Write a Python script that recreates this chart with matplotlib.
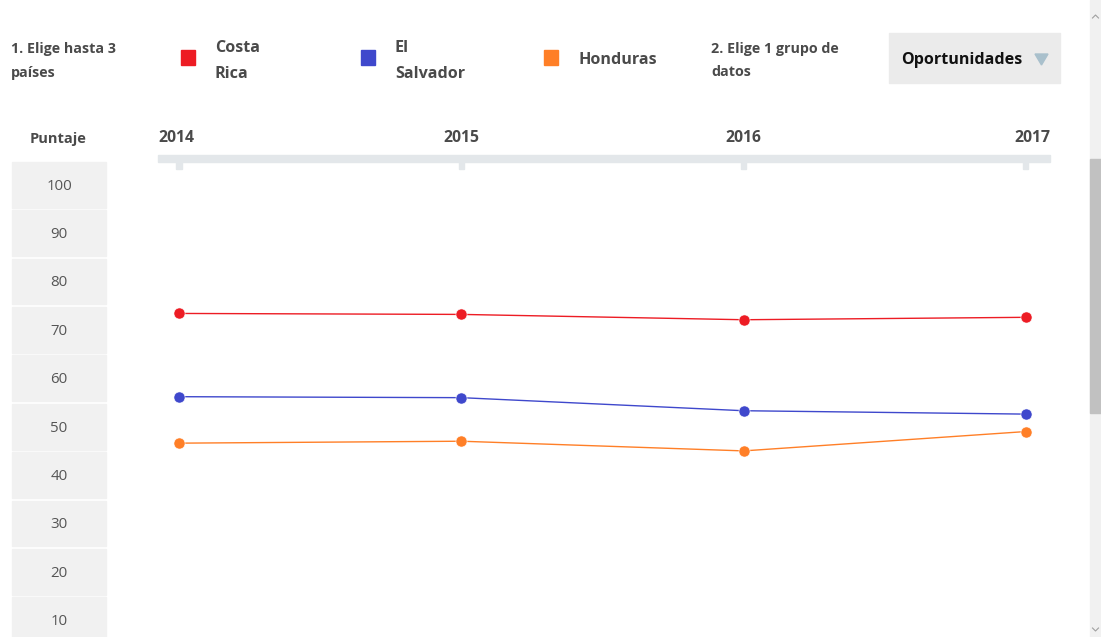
import matplotlib
matplotlib.use("Agg")
import matplotlib.pyplot as plt
from matplotlib.patches import Rectangle, Polygon
from matplotlib.transforms import blended_transform_factory

years = [2014, 2015, 2016, 2017]
countries = ["Costa Rica", "El Salvador", "Honduras"]
legend_lines = [["Costa", "Rica"], ["El", "Salvador"], ["Honduras"]]
costa_rica = [73.4, 73.2, 72.1, 72.6]
el_salvador = [56.2, 56.0, 53.3, 52.6]
honduras = [46.6, 47.0, 45.0, 49.0]
scores = [100, 90, 80, 70, 60, 50, 40, 30, 20, 10]
colors = ["#ED1C24", "#3F48CC", "#FF7F27"]

W, H = 1101, 637
plt.rcParams['font.family'] = ['Open Sans', 'DejaVu Sans']
fig = plt.figure(figsize=(W / 100, H / 100), dpi=100)
fig.patch.set_facecolor("white")


def fx(x):
    return x / W


def fy(y):
    return 1 - y / H


ax = fig.add_axes([0, 0, 1, 1])
ax.set_xlim(2013.366, 2017.266)
ax.set_ylim(6.55, 138.16)
ax.axis("off")

dark = "#4a4a4a"

# header
fig.text(fx(11), fy(48.5), "1. Elige hasta 3", fontsize=10.3, fontweight="bold", color=dark, va="center")
fig.text(fx(11), fy(72.5), "países", fontsize=10.3, fontweight="bold", color=dark, va="center")

sq_x = [181, 361, 544]
txt_x = [215, 395, 579]
for i, name in enumerate(countries):
    fig.patches.append(Rectangle((fx(sq_x[i]), fy(65)), 14 / W, 15 / H,
                                 transform=fig.transFigure, color=colors[i]))
    lines = legend_lines[i]
    if len(lines) == 2:
        fig.text(fx(txt_x[i]), fy(47.5), lines[0], fontsize=11.6, fontweight="bold", color=dark, va="center")
        fig.text(fx(txt_x[i]), fy(73.5), lines[1], fontsize=11.6, fontweight="bold", color=dark, va="center")
    else:
        fig.text(fx(txt_x[i]), fy(60.5), lines[0], fontsize=11.6, fontweight="bold", color=dark, va="center")

fig.text(fx(711), fy(48.5), "2. Elige 1 grupo de", fontsize=10.3, fontweight="bold", color=dark, va="center")
fig.text(fx(711), fy(72.5), "datos", fontsize=10.3, fontweight="bold", color=dark, va="center")

fig.patches.append(Rectangle((fx(889), fy(83)), 171 / W, 50 / H,
                             transform=fig.transFigure, color="#ebebeb"))
fig.text(fx(901), fy(60.5), "Oportunidades", fontsize=11.6, fontweight="bold", color="#111111", va="center")
fig.patches.append(Polygon([(fx(1035), fy(54)), (fx(1048), fy(54)), (fx(1041.5), fy(65))],
                           closed=True, transform=fig.transFigure, color="#a9c0cc"))

# y labels as boxes
fig.text(fx(58), fy(138.5), "Puntaje", fontsize=10.5, fontweight="bold", color=dark, ha="center", va="center")
tr = blended_transform_factory(ax.transAxes, ax.transData)
for v in scores:
    ax.add_patch(Rectangle((fx(12), v - 4.75), 94 / W, 9.5, transform=tr, color="#f1f1f1"))
    ax.text(fx(59), v - 0.3, str(v), transform=tr, fontsize=10.8, color="#555555", ha="center", va="center")

# x axis bar with ticks and year labels
ax.add_patch(Rectangle((fx(158), fy(162)), 892 / W, 7 / H, transform=ax.transAxes, color="#e3e7ea"))
trx = blended_transform_factory(ax.transData, ax.transAxes)
for yr in years:
    ax.add_patch(Rectangle((yr - 0.009, fy(169)), 0.018, 8 / H, transform=trx, color="#e3e7ea"))
ha_list = ["left", "center", "center", "right"]
for i, yr in enumerate(years):
    if i == 0:
        x, t = fx(158), ax.transAxes
    elif i == len(years) - 1:
        x, t = fx(1050), ax.transAxes
    else:
        x, t = yr, trx
    ax.text(x, fy(138.5), str(yr), transform=t, fontsize=11.3, fontweight="bold", color=dark,
            ha=ha_list[i], va="center")

# series
for vals, c in zip([costa_rica, el_salvador, honduras], colors):
    ax.plot(years, vals, color=c, lw=1.0, zorder=3)
    ax.plot(years, vals, "o", color=c, markersize=8, markeredgecolor="white", markeredgewidth=0.4, zorder=4)

# scrollbar
fig.patches.append(Rectangle((fx(1090), 0), 11 / W, 1, transform=fig.transFigure, color="#f1f1f1"))
fig.patches.append(Rectangle((fx(1090), fy(413)), 11 / W, 254 / H, transform=fig.transFigure, color="#c1c1c1"))
fig.lines.append(plt.Line2D([fx(1092.5), fx(1095.5), fx(1098.5)], [fy(18), fy(15), fy(18)],
                            transform=fig.transFigure, color="#a0a0a0", lw=0.8))
fig.lines.append(plt.Line2D([fx(1092.5), fx(1095.5), fx(1098.5)], [fy(628), fy(631), fy(628)],
                            transform=fig.transFigure, color="#a0a0a0", lw=0.8))

fig.savefig("out.png", dpi=100, facecolor="white")
